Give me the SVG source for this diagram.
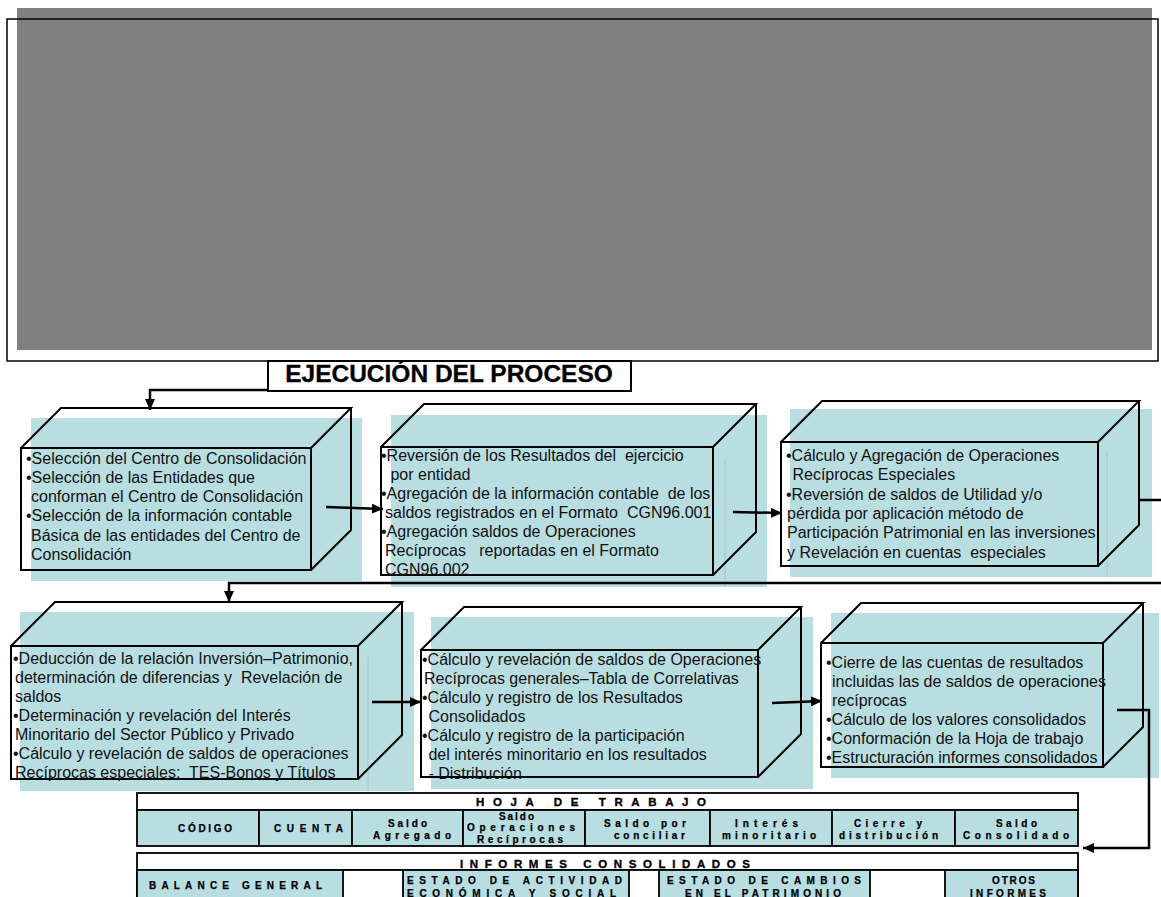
<svg xmlns="http://www.w3.org/2000/svg" width="1161" height="897" viewBox="0 0 1161 897">
<style>
.bg{fill:#808080}
.frame{fill:none;stroke:#000;stroke-width:1.5}
.blue{fill:#B9DEE2}
.seam{stroke:#A4C8CC;stroke-width:1}
.box{fill:none;stroke:#000;stroke-width:2;stroke-linejoin:miter}
.t{font-family:"Liberation Sans",Arial,sans-serif;font-size:16px;fill:#111;white-space:pre}
.title{font-family:"Liberation Sans",Arial,sans-serif;font-size:24.5px;font-weight:bold;fill:#000;stroke:#000;stroke-width:0.3}
.conn{fill:none;stroke:#000;stroke-width:2.5}
.cell{fill:#B9DEE2;stroke:#000;stroke-width:1.8}
.hdr{fill:#fff;stroke:#000;stroke-width:1.8}
.c{font-family:"Liberation Sans",Arial,sans-serif;font-size:10px;font-weight:bold;fill:#000;stroke:#000;stroke-width:0.25}
.h{font-family:"Liberation Sans",Arial,sans-serif;font-size:11.5px;font-weight:bold;fill:#000;stroke:#000;stroke-width:0.35}
</style>
<defs>
<marker id="arr" markerUnits="userSpaceOnUse" markerWidth="11" markerHeight="10" refX="11" refY="5" orient="auto">
<path d="M0,0 L11,5 L0,10 z" fill="#000"/>
</marker>
</defs>

<g id="banner">
<rect class="bg" x="17" y="8" width="1135" height="342"/>
<rect class="frame" x="7" y="19" width="1151" height="342"/>
</g>

<g id="title">
<rect x="268" y="361" width="363" height="30" fill="#fff" stroke="#000" stroke-width="2"/>
<text class="title" x="449" y="382" text-anchor="middle">EJECUCIÓN DEL PROCESO</text>
</g>

<g id="node1">
<rect class="blue" x="31" y="418" width="331" height="163"/>
<path class="box" d="M21,448 H311 V570 H21 Z M21,448 L61,408 H351 L311,448 M351,408 V530 L311,570"/>
<text class="t" x="26" y="464">•Selección del Centro de Consolidación</text>
<text class="t" x="26" y="483">•Selección de las Entidades que</text>
<text class="t" x="31" y="502">conforman el Centro de Consolidación</text>
<text class="t" x="26" y="521">•Selección de la información contable</text>
<text class="t" x="31" y="541">Básica de las entidades del Centro de</text>
<text class="t" x="31" y="560">Consolidación</text>
</g>

<g id="node2">
<rect class="blue" x="391" y="415" width="376" height="172"/>
<line class="seam" x1="725" y1="458" x2="725" y2="587"/>
<path class="box" d="M381,447 H713 V575 H381 Z M381,447 L424,404 H756 L713,447 M756,404 V532 L713,575"/>
<text class="t" x="381" y="461">•Reversión de los Resultados del  ejercicio</text>
<text class="t" x="386" y="480"> por entidad</text>
<text class="t" x="381" y="499">•Agregación de la información contable  de los</text>
<text class="t" x="385" y="518">saldos registrados en el Formato  CGN96.001</text>
<text class="t" x="381" y="537">•Agregación saldos de Operaciones</text>
<text class="t" x="385" y="556">Recíprocas   reportadas en el Formato</text>
<text class="t" x="385" y="575">CGN96.002</text>
</g>

<g id="node3">
<rect class="blue" x="790" y="409" width="362" height="168"/>
<line class="seam" x1="1107" y1="452" x2="1107" y2="577"/>
<path class="box" d="M781,442 H1098 V566 H781 Z M781,442 L822,401 H1139 L1098,442 M1139,401 V525 L1098,566"/>
<text class="t" x="786" y="461">•Cálculo y Agregación de Operaciones</text>
<text class="t" x="788" y="480"> Recíprocas Especiales</text>
<text class="t" x="786" y="500">•Reversión de saldos de Utilidad y/o</text>
<text class="t" x="787" y="519">pérdida por aplicación método de</text>
<text class="t" x="787" y="538">Participación Patrimonial en las inversiones</text>
<text class="t" x="787" y="558">y Revelación en cuentas  especiales</text>
</g>

<g id="node4">
<rect class="blue" x="20" y="612" width="394" height="179"/>
<line class="seam" x1="368" y1="657" x2="368" y2="791"/>
<path class="box" d="M11,646 H358 V779 H11 Z M11,646 L55,602 H402 L358,646 M402,602 V735 L358,779"/>
<text class="t" x="13" y="664">•Deducción de la relación Inversión–Patrimonio,</text>
<text class="t" x="15" y="683">determinación de diferencias y  Revelación de</text>
<text class="t" x="15" y="702">saldos</text>
<text class="t" x="13" y="721">•Determinación y revelación del Interés</text>
<text class="t" x="15" y="740">Minoritario del Sector Público y Privado</text>
<text class="t" x="13" y="759">•Cálculo y revelación de saldos de operaciones</text>
<text class="t" x="15" y="778">Recíprocas especiales:  TES-Bonos y Títulos</text>
</g>

<g id="node5">
<rect class="blue" x="431" y="617" width="382" height="172"/>
<path class="box" d="M421,650 H758 V777 H421 Z M421,650 L464,607 H801 L758,650 M801,607 V734 L758,777"/>
<text class="t" x="422" y="665">•Cálculo y revelación de saldos de Operaciones</text>
<text class="t" x="424" y="684">Recíprocas generales–Tabla de Correlativas</text>
<text class="t" x="422" y="703">•Cálculo y registro de los Resultados</text>
<text class="t" x="424" y="722"> Consolidados</text>
<text class="t" x="422" y="741">•Cálculo y registro de la participación</text>
<text class="t" x="424" y="760"> del interés minoritario en los resultados</text>
<text class="t" x="424" y="779"> - Distribución</text>
</g>

<g id="node6">
<rect class="blue" x="831" y="613" width="328" height="165"/>
<path class="box" d="M821,643 H1103 V767 H821 Z M821,643 L861,603 H1143 L1103,643 M1143,603 V727 L1103,767"/>
<text class="t" x="826" y="668">•Cierre de las cuentas de resultados</text>
<text class="t" x="832" y="687">incluidas las de saldos de operaciones</text>
<text class="t" x="832" y="706">recíprocas</text>
<text class="t" x="826" y="725">•Cálculo de los valores consolidados</text>
<text class="t" x="826" y="744">•Conformación de la Hoja de trabajo</text>
<text class="t" x="826" y="763">•Estructuración informes consolidados</text>
</g>

<g id="hoja">
<rect class="hdr" x="137" y="793" width="941" height="17"/>
<text class="h" x="476" y="806" textLength="230" lengthAdjust="spacing">HOJA DE TRABAJO</text>
<rect class="cell" x="137" y="810" width="122" height="36"/>
<rect class="cell" x="259" y="810" width="93" height="36"/>
<rect class="cell" x="352" y="810" width="111" height="36"/>
<rect class="cell" x="463" y="810" width="122" height="36"/>
<rect class="cell" x="585" y="810" width="125" height="36"/>
<rect class="cell" x="710" y="810" width="122" height="36"/>
<rect class="cell" x="832" y="810" width="123" height="36"/>
<rect class="cell" x="955" y="810" width="123" height="36"/>
<text class="c" x="178" y="832" textLength="54" lengthAdjust="spacing">CÓDIGO</text>
<text class="c" x="274" y="832" textLength="69" lengthAdjust="spacing">CUENTA</text>
<text class="c" x="388" y="827" textLength="39" lengthAdjust="spacing">Saldo</text>
<text class="c" x="373" y="839" textLength="78" lengthAdjust="spacing">Agregado</text>
<text class="c" x="499" y="820" textLength="35" lengthAdjust="spacing">Saldo</text>
<text class="c" x="467" y="831" textLength="108" lengthAdjust="spacing">Operaciones</text>
<text class="c" x="477" y="843" textLength="86" lengthAdjust="spacing">Recíprocas</text>
<text class="c" x="604" y="827" textLength="82" lengthAdjust="spacing">Saldo por</text>
<text class="c" x="614" y="839" textLength="71" lengthAdjust="spacing">conciliar</text>
<text class="c" x="735" y="827" textLength="63" lengthAdjust="spacing">Interés</text>
<text class="c" x="722" y="839" textLength="94" lengthAdjust="spacing">minoritario</text>
<text class="c" x="854" y="827" textLength="68" lengthAdjust="spacing">Cierre y</text>
<text class="c" x="839" y="839" textLength="99" lengthAdjust="spacing">distribución</text>
<text class="c" x="996" y="827" textLength="41" lengthAdjust="spacing">Saldo</text>
<text class="c" x="963" y="839" textLength="106" lengthAdjust="spacing">Consolidado</text>
</g>

<g id="informes">
<rect class="hdr" x="137" y="853" width="941" height="17"/>
<text class="h" x="460" y="868" textLength="290" lengthAdjust="spacing">INFORMES CONSOLIDADOS</text>
<rect class="hdr" x="137" y="870" width="941" height="40"/>
<rect class="cell" x="137" y="870" width="206" height="40"/>
<rect class="cell" x="403" y="870" width="226" height="40"/>
<rect class="cell" x="659" y="870" width="211" height="40"/>
<rect class="cell" x="945" y="870" width="133" height="40"/>
<text class="c" x="149" y="889" textLength="173" lengthAdjust="spacing">BALANCE GENERAL</text>
<text class="c" x="407" y="884" textLength="215" lengthAdjust="spacing">ESTADO DE ACTIVIDAD</text>
<text class="c" x="407" y="897" textLength="209" lengthAdjust="spacing">ECONÓMICA Y SOCIAL</text>
<text class="c" x="667" y="884" textLength="194" lengthAdjust="spacing">ESTADO DE CAMBIOS</text>
<text class="c" x="685" y="897" textLength="156" lengthAdjust="spacing">EN EL PATRIMONIO</text>
<text class="c" x="992" y="884" textLength="43" lengthAdjust="spacing">OTROS</text>
<text class="c" x="970" y="897" textLength="76" lengthAdjust="spacing">INFORMES</text>
</g>

<g id="connectors">
<polyline class="conn" points="268,390 150,390 150,410" marker-end="url(#arr)"/>
<line class="conn" x1="326" y1="507" x2="383" y2="509" marker-end="url(#arr)"/>
<line class="conn" x1="733" y1="512" x2="782" y2="513" marker-end="url(#arr)"/>
<polyline class="conn" points="1140,500 1175,500 1175,583 229,583 229,602" marker-end="url(#arr)"/>
<line class="conn" x1="372" y1="702" x2="421" y2="702" marker-end="url(#arr)"/>
<line class="conn" x1="772" y1="703" x2="822" y2="701" marker-end="url(#arr)"/>
<polyline class="conn" points="1117,710 1149,710 1149,848 1083,848" marker-end="url(#arr)"/>
</g>
</svg>
